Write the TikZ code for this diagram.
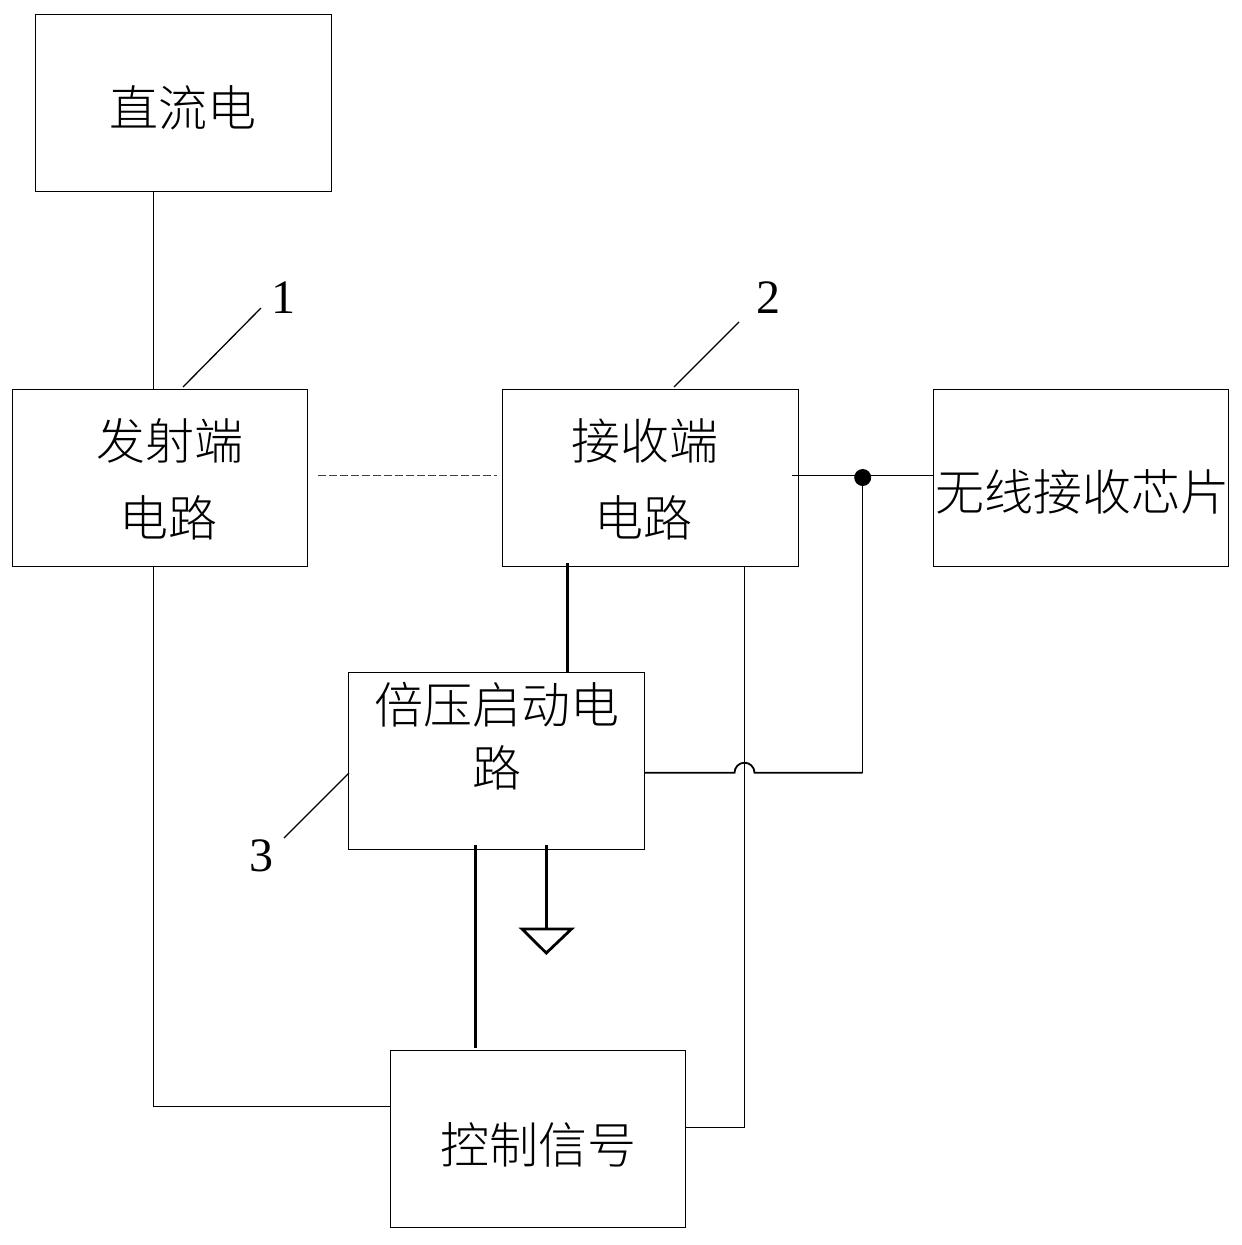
\documentclass[tikz,border=0pt]{standalone}
\usepackage{fontspec}
\setmainfont{Liberation Serif}
\newfontfamily\cjk{Noto Sans CJK SC Light}
\tikzset{
  x=1pt,y=-1pt,
  blockbox/.style={draw=black,line width=1pt,outer sep=0pt,minimum width=295.5pt,minimum height=177pt,inner sep=0pt,anchor=north west},
  cjklabel/.style={font=\cjk\fontsize{49}{49}\selectfont,inner sep=0pt,text=black},
  numlabel/.style={font=\fontsize{48}{48}\selectfont,inner sep=0pt,text=black},
  wire/.style={draw=black,line width=1pt},
  leader/.style={draw=black,line width=1.3pt},
  heavywire/.style={draw=black,line width=1.8pt},
  thickwire/.style={draw=black,line width=2.8pt},
  dashwire/.style={draw=black!75,line width=0.8pt,dash pattern=on 8pt off 3pt},
}
\begin{document}
\begin{tikzpicture}
\useasboundingbox (0,0) rectangle (1242,1245);
\fill[white] (0,0) rectangle (1242,1245);
% blocks
\node[blockbox] (dc) at (35.5,14.5) {};
\node[blockbox] (tx) at (12,389.5) {};
\node[blockbox] (rx) at (502.5,389.5) {};
\node[blockbox] (chip) at (933.3,389.5) {};
\node[blockbox] (dbl) at (348.5,672.5) {};
\node[blockbox] (ctl) at (390.2,1050.5) {};
% texts
\node[cjklabel] at (183,108) {直流电};
\node[cjklabel] at (170,441) {发射端};
\node[cjklabel] at (168,518) {电路};
\node[cjklabel] at (644.5,441) {接收端};
\node[cjklabel] at (643,518) {电路};
\node[cjklabel] at (1082,492) {无线接收芯片};
\node[cjklabel] at (496.5,705) {倍压启动电};
\node[cjklabel] at (497,768) {路};
\node[cjklabel] at (538,1145) {控制信号};
\node[numlabel] (n1) at (283,298) {1};
\node[numlabel] (n2) at (768,298) {2};
\node[numlabel] (n3) at (261,856) {3};
% connection points
\coordinate (dcS) at (153.5,191);
\coordinate (txN) at (153.5,390);
\coordinate (l1a) at (183,387);
\coordinate (l1b) at (261,308);
\coordinate (l2a) at (674,387);
\coordinate (l2b) at (739,322);
\coordinate (l3a) at (284,838);
\coordinate (l3b) at (349,773);
\coordinate (dashA) at (318,475.5);
\coordinate (dashB) at (497,475.5);
\coordinate (rxOut) at (792,475.5);
\coordinate (chipW) at (933,475.5);
\coordinate (j) at (862.7,477.5);
\coordinate (jw) at (862.5,475.5);
\coordinate (jb) at (862.5,772.7);
\coordinate (humpR) at (754.5,772.7);
\coordinate (dblE) at (644,772.7);
\coordinate (rxS) at (744.5,566);
\coordinate (fbC) at (744.5,1127.5);
\coordinate (ctlE) at (685,1127.5);
\coordinate (txS) at (153.5,566);
\coordinate (fbT) at (153.5,1106.5);
\coordinate (ctlW) at (390,1106.5);
\coordinate (rxD) at (567.5,563);
\coordinate (dblN) at (567.5,673);
\coordinate (dblS) at (475.5,845);
\coordinate (ctlN) at (475.5,1048);
\coordinate (gndA) at (546.3,845);
\coordinate (gndB) at (546.3,929);
\coordinate (gL) at (522,929);
\coordinate (gR) at (571.5,929);
\coordinate (gT) at (546.3,953);
% connectors
\fill[black] (j) circle (8.5pt);
\draw[wire] (dcS) -- (txN);
\draw[leader] (l1a) -- (l1b);
\draw[leader] (l2a) -- (l2b);
\draw[leader] (l3a) -- (l3b);
\draw[dashwire] (dashA) -- (dashB);
\draw[wire] (rxOut) -- (chipW);
\draw[wire] (jw) -- (jb);
\draw[heavywire] (jb) -- (humpR) arc[start angle=0,end angle=180,radius=10pt] -- (dblE);
\draw[wire] (rxS) -- (fbC) -- (ctlE);
\draw[wire] (txS) -- (fbT) -- (ctlW);
\draw[thickwire] (rxD) -- (dblN);
\draw[thickwire] (dblS) -- (ctlN);
\draw[thickwire] (gndA) -- (gndB);
\draw[thickwire] (gL) -- (gR) -- (gT) -- cycle;
\end{tikzpicture}
\end{document}
